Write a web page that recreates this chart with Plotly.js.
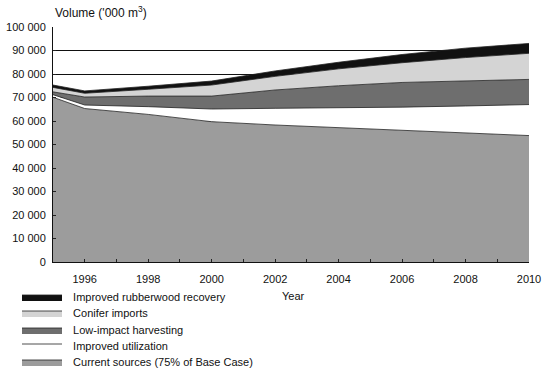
<!DOCTYPE html>
<html>
<head>
<meta charset="utf-8">
<script src="https://cdn.plot.ly/plotly-3.0.1.min.js"></script>
<style>html,body{margin:0;padding:0;background:#fff;}#chart{width:544px;height:371px;}</style>
</head>
<body>
<div id="chart"></div>
<script>
var years = [1995, 1996, 1998, 2000, 2002, 2004, 2006, 2008, 2010];
var currentSources = [70100, 65300, 62800, 59700, 58300, 57200, 56200, 55200, 53800];
var improvedUtilization = [1100, 1500, 3300, 5400, 7100, 8400, 9700, 11200, 13200];
var lowImpactHarvesting = [1200, 3400, 4500, 5500, 7800, 9400, 10500, 10800, 10700];
var coniferImports = [1900, 1600, 2900, 4700, 5800, 7200, 8400, 9800, 11100];
var rubberwoodRecovery = [1000, 1000, 1300, 1700, 2300, 2800, 3500, 4000, 4200];

var seriesNames = ['Current sources (75% of Base Case)', 'Improved utilization', 'Low-impact harvesting', 'Conifer imports', 'Improved rubberwood recovery'];

var xTickVals = [1996, 1998, 2000, 2002, 2004, 2006, 2008, 2010];
var xTickText = ['1996', '1998', '2000', '2002', '2004', '2006', '2008', '2010'];
var yTickVals = [0, 10000, 20000, 30000, 40000, 50000, 60000, 70000, 80000, 90000, 100000];
var yTickText = ['0', '10 000', '20 000', '30 000', '40 000', '50 000', '60 000', '70 000', '80 000', '90 000', '100 000'];

var seriesValues = [currentSources, improvedUtilization, lowImpactHarvesting, coniferImports, rubberwoodRecovery];
var fillColors = ['#9c9c9c', '#ffffff', '#6e6e6e', '#d4d4d4', '#111111'];
var legendIds = ['legend5', 'legend4', 'legend3', 'legend2', 'legend'];

var traces = seriesValues.map(function (vals, i) {
  return {
    type: 'scatter',
    mode: 'lines',
    x: years,
    y: vals,
    name: '\u00a0\u00a0' + seriesNames[i],
    stackgroup: 'one',
    fillcolor: fillColors[i],
    line: {color: '#222222', width: 0.8},
    legend: legendIds[i]
  };
});

var font = {family: 'Liberation Sans, Arial, sans-serif', size: 11, color: '#111111'};

function legendAt(py) {
  return {
    xref: 'container', yref: 'container',
    x: 17 / 544, xanchor: 'left',
    y: 1 - py / 371, yanchor: 'middle',
    font: font,
    itemwidth: 40,
    bgcolor: 'rgba(0,0,0,0)'
  };
}

var layout = {
  width: 544,
  height: 371,
  margin: {l: 53, r: 15, t: 27, b: 109, autoexpand: false},
  paper_bgcolor: '#ffffff',
  plot_bgcolor: '#ffffff',
  font: font,
  showlegend: true,
  legend: legendAt(297),
  legend2: legendAt(313),
  legend3: legendAt(330),
  legend4: legendAt(346),
  legend5: legendAt(362),
  xaxis: {
    range: [1995, 2010],
    tickvals: xTickVals,
    ticktext: xTickText,
    ticks: 'inside',
    ticklen: 3,
    tickcolor: '#222',
    ticklabelstandoff: 7,
    showline: true,
    linecolor: '#111',
    linewidth: 1,
    showgrid: false,
    zeroline: false,
    minor: {dtick: 1, tick0: 1995, ticks: 'inside', ticklen: 3, tickcolor: '#222', showgrid: false},
    fixedrange: true
  },
  yaxis: {
    range: [0, 100000],
    tickvals: yTickVals,
    ticktext: yTickText,
    ticks: 'inside',
    ticklen: 3,
    tickcolor: '#222',
    ticklabelstandoff: 4,
    showline: true,
    linecolor: '#111',
    linewidth: 1,
    showgrid: true,
    gridcolor: '#111111',
    gridwidth: 1,
    zeroline: false,
    fixedrange: true
  },
  annotations: [
    {
      xref: 'paper', yref: 'paper', x: 0, y: 1, xanchor: 'left', yanchor: 'bottom', yshift: 5,
      text: "Volume ('000 m<sup>3</sup>)", showarrow: false,
      font: {family: 'Liberation Sans, Arial, sans-serif', size: 12, color: '#111111'}
    },
    {
      xref: 'paper', yref: 'paper', x: 0.506, y: -0.145, xanchor: 'center', yanchor: 'middle',
      text: 'Year', showarrow: false, font: font
    }
  ]
};

Plotly.newPlot('chart', traces, layout, {displayModeBar: false, staticPlot: true});
</script>
</body>
</html>
